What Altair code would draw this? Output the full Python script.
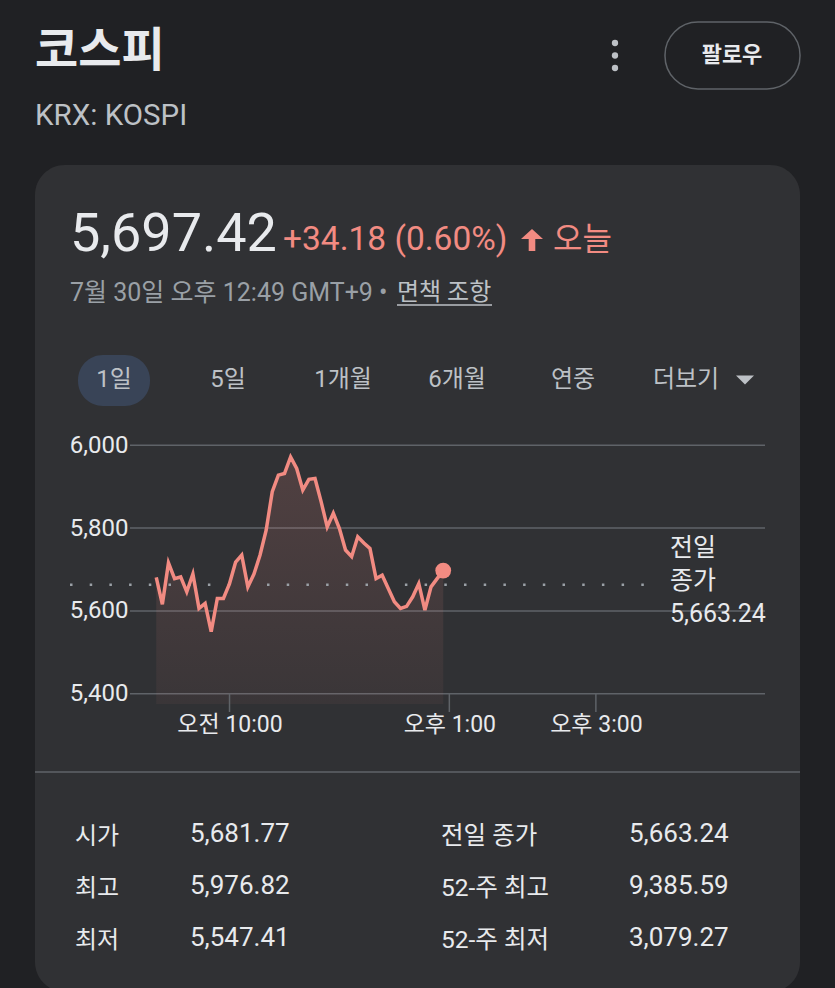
import altair as alt
import pandas as pd

# ---------------- data ----------------
TIMES = ["09:00", "09:05", "09:10", "09:15", "09:20", "09:25", "09:30", "09:35",
         "09:40", "09:45", "09:50", "09:55", "10:00", "10:05", "10:10", "10:15",
         "10:20", "10:25", "10:30", "10:35", "10:40", "10:45", "10:50", "10:55",
         "11:00", "11:05", "11:10", "11:15", "11:20", "11:25", "11:30", "11:35",
         "11:40", "11:45", "11:50", "11:55", "12:00", "12:05", "12:10", "12:15",
         "12:20", "12:25", "12:30", "12:35", "12:40", "12:45", "12:50", "12:55"]
VALUES = [5681, 5616, 5716, 5678, 5682, 5646, 5689, 5606,
          5618, 5550, 5630, 5630, 5666, 5718, 5735, 5658,
          5689, 5735, 5795, 5888, 5928, 5932, 5972, 5944,
          5892, 5918, 5920, 5864, 5803, 5836, 5799, 5747,
          5731, 5779, 5764, 5751, 5678, 5686, 5654, 5622,
          5606, 5611, 5634, 5666, 5602, 5658, 5678, 5697.42]
PREV_CLOSE = 5663.24
Y_TICKS = [5400, 5600, 5800, 6000]
X_TICK_TIMES = ["10:00", "13:00", "15:00"]
X_TICK_LABELS = ["오전 10:00", "오후 1:00", "오후 3:00"]

TITLE = "코스피"
TICKER = "KRX: KOSPI"
PRICE = "5,697.42"
CHANGE = "+34.18 (0.60%)"
TODAY = "오늘"
DATE_LINE = "7월 30일 오후 12:49 GMT+9 •"
DISCLAIMER = "면책 조항"
FOLLOW = "팔로우"
TABS = ["1일", "5일", "1개월", "6개월", "연중", "더보기"]
PREV_LABEL = ["전일", "종가", "5,663.24"]
STAT_L_NAMES = ["시가", "최고", "최저"]
STAT_L_VALUES = ["5,681.77", "5,976.82", "5,547.41"]
STAT_R_NAMES = ["전일 종가", "52-주 최고", "52-주 최저"]
STAT_R_VALUES = ["5,663.24", "9,385.59", "3,079.27"]


def to_min(s):
    h, m = s.split(":")
    return int(h) * 60 + int(m)


df = pd.DataFrame({"minute": [to_min(t) for t in TIMES], "value": VALUES})
last = df.tail(1)
tick_df = pd.DataFrame({"minute": [to_min(t) for t in X_TICK_TIMES]})
grid_df = pd.DataFrame({"value": Y_TICKS})

# ---------------- style ----------------
FONT = 'Roboto, "Noto Sans CJK KR", sans-serif'
BG = "#202124"
CARD = "#303134"
GRID = "#5f6368"
RED = "#f28b82"
WHITE = "#e8eaed"
GREY = "#9aa0a6"
LIGHT = "#bdc1c6"

OX, OY = 130, 435          # plot-area origin in page pixels
W, H = 635, 269
X_DOM = [518.5, 1038.5]
Y_DOM = [5375, 6025]

xs = alt.Scale(domain=X_DOM)
ys = alt.Scale(domain=Y_DOM)

label_expr = " : ".join(
    f"datum.value == {to_min(t)} ? '{l}'" for t, l in zip(X_TICK_TIMES, X_TICK_LABELS)
) + " : ''"

X_AXIS = alt.Axis(values=[to_min(t) for t in X_TICK_TIMES], labelExpr=label_expr,
                  grid=False, domain=False, ticks=False, labelPadding=9, title=None,
                  labelFontSize=23, labelColor=WHITE, labelFont=FONT, zindex=1)
Y_AXIS = alt.Axis(values=Y_TICKS, format=",d", grid=False, title=None,
                  domain=False, ticks=False, labelPadding=2, zindex=1,
                  labelFontSize=24, labelColor=WHITE, labelFont=FONT)

one = alt.Data(values=[{}])


def txt(s, x, y, size, color, weight="normal", align="left"):
    return alt.Chart(one).mark_text(
        text=s, align=align, baseline="middle", fontSize=size, color=color,
        fontWeight=weight, font=FONT
    ).encode(x=alt.value(x - OX), y=alt.value(y - OY))


def box(x1, x2, y1, y2, **kw):
    return alt.Chart(one).mark_rect(**kw).encode(
        x=alt.value(x1 - OX), x2=alt.value(x2 - OX),
        y=alt.value(y1 - OY), y2=alt.value(y2 - OY))


def hline(x1, x2, y, color, width):
    return alt.Chart(one).mark_rule(color=color, strokeWidth=width).encode(
        x=alt.value(x1 - OX), x2=alt.value(x2 - OX), y=alt.value(y - OY))


def symbol(path, x, y, size, color):
    return alt.Chart(one).mark_point(
        shape=path, size=size, filled=True, color=color, opacity=1
    ).encode(x=alt.value(x - OX), y=alt.value(y - OY))


layers = []
# card and decorations
layers.append(box(35, 800, 165, 992, color=CARD, cornerRadius=30))
layers.append(hline(35, 800, 772, GRID, 1.5))
layers.append(box(665, 800, 22, 89, fill=BG, stroke=GRID, strokeWidth=1.5, cornerRadius=33))
layers.append(txt(FOLLOW, 732, 55, 22, WHITE, "bold", "center"))
for yy in (43, 55.5, 68):
    layers.append(alt.Chart(one).mark_circle(size=40, color=LIGHT, opacity=1).encode(
        x=alt.value(615 - OX), y=alt.value(yy - OY)))
layers.append(txt(TITLE, 35, 52, 47, WHITE, "bold"))
layers.append(txt(TICKER, 35, 116, 29.5, LIGHT))
layers.append(txt(PRICE, 70, 235, 54, WHITE))
layers.append(txt(CHANGE, 283, 240, 33.5, RED))
layers.append(symbol("M0,-1L1,-0.1L0.3,-0.1L0.3,1L-0.3,1L-0.3,-0.1L-1,-0.1Z", 532, 240, 484, RED))
layers.append(txt(TODAY, 553, 240, 32, RED))
layers.append(txt(DATE_LINE, 70, 293, 25, GREY))
layers.append(txt(DISCLAIMER, 397, 293, 24, LIGHT))
layers.append(hline(397, 492, 305, LIGHT, 1.5))

# tabs
layers.append(box(78, 150, 355, 406, color="#394457", cornerRadius=25))
for t, cx in zip(TABS, [114, 228, 343, 457, 573, 686]):
    layers.append(txt(t, cx, 380, 24, LIGHT, "normal", "center"))
layers.append(symbol("M-1,-0.5L1,-0.5L0,0.5Z", 745, 380, 324, LIGHT))

# chart
grid = alt.Chart(grid_df).mark_rule(color=GRID, strokeWidth=1.5).encode(
    y=alt.Y("value:Q", scale=ys, axis=Y_AXIS),
    x=alt.value(0), x2=alt.value(W),
)
area = alt.Chart(df).mark_area(
    color=alt.LinearGradient(
        gradient="linear", x1=1, x2=1, y1=0, y2=1,
        stops=[alt.GradientStop(color="rgba(242,139,130,0.17)", offset=0),
               alt.GradientStop(color="rgba(242,139,130,0.05)", offset=1)])
).encode(
    x=alt.X("minute:Q", scale=xs, axis=X_AXIS),
    y=alt.Y("value:Q", scale=ys, axis=Y_AXIS),
    y2=alt.Y2Datum(Y_DOM[0]),
)
ticks = alt.Chart(tick_df).mark_rule(color=GRID, strokeWidth=1.5).encode(
    x=alt.X("minute:Q", scale=xs, axis=X_AXIS),
    y=alt.YDatum(Y_TICKS[0], scale=ys, axis=Y_AXIS),
    y2=alt.value(712 - OY),
)
prev = alt.Chart(one).mark_rule(color=GREY, strokeWidth=2.5, strokeDash=[2.5, 17.2]).encode(
    y=alt.YDatum(PREV_CLOSE, scale=ys, axis=Y_AXIS),
    x=alt.value(70 - OX), x2=alt.value(660 - OX),
)
line = alt.Chart(df).mark_line(color=RED, strokeWidth=3.5).encode(
    x=alt.X("minute:Q", scale=xs, axis=X_AXIS),
    y=alt.Y("value:Q", scale=ys, axis=Y_AXIS),
)
dot = alt.Chart(last).mark_circle(color=RED, size=250, opacity=1).encode(
    x=alt.X("minute:Q", scale=xs, axis=X_AXIS),
    y=alt.Y("value:Q", scale=ys, axis=Y_AXIS),
)
layers += [grid, area, ticks, prev, line, dot]
for i, s in enumerate(PREV_LABEL):
    layers.append(txt(s, 670, 548 + i * 33, 25, WHITE))

# stats table
for i in range(3):
    yy = 836 + i * 52
    layers.append(txt(STAT_L_NAMES[i], 75, yy + 1, 24, WHITE))
    layers.append(txt(STAT_L_VALUES[i], 190, yy - 2, 26, WHITE))
    layers.append(txt(STAT_R_NAMES[i], 441, yy + 1, 24.5, WHITE))
    layers.append(txt(STAT_R_VALUES[i], 629, yy - 2, 26, WHITE))

chart = alt.layer(*layers).properties(
    width=W, height=H,
    autosize=alt.AutoSizeParams(type="none"),
    padding={"left": OX, "top": OY, "right": 835 - OX - W, "bottom": 988 - OY - H},
    background=BG,
).configure_view(stroke=None)

chart.save("out.html", embed_options={"renderer": "svg", "actions": False})
